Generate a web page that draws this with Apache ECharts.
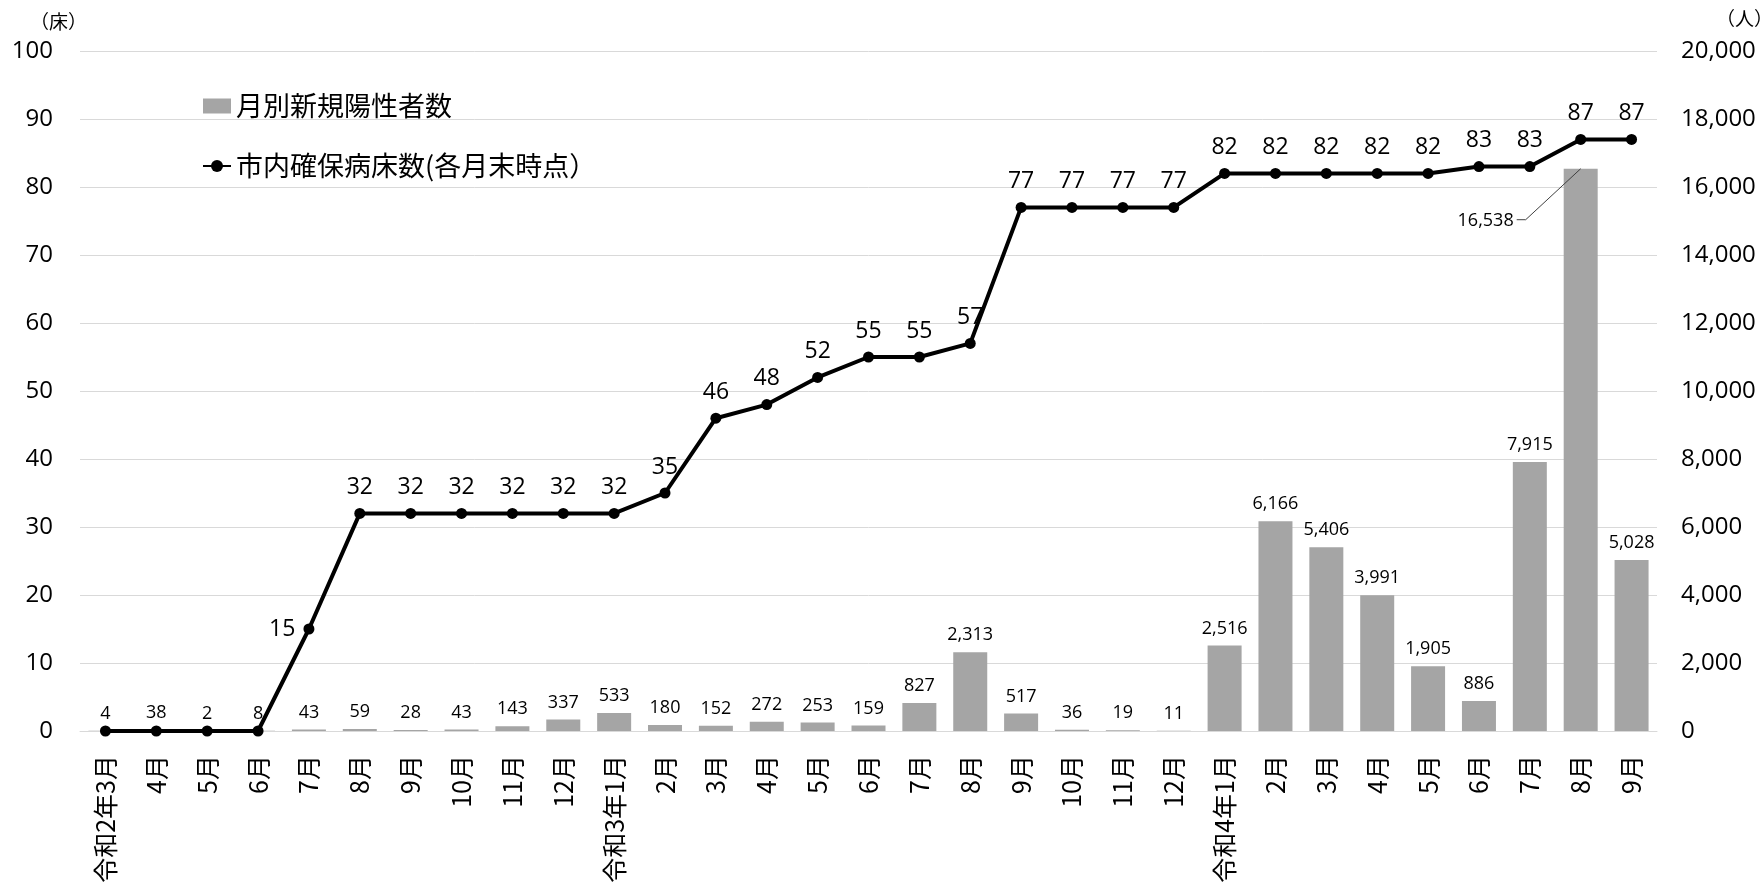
<!DOCTYPE html>
<html><head><meta charset="utf-8">
<script src="https://cdn.jsdelivr.net/npm/echarts@6/dist/echarts.min.js"></script>
<style>html,body{margin:0;padding:0;background:#fff}#c{width:1763px;height:888px}</style>
</head><body><div id="c"></div>
<script>
const categories = ['令和2年3月','4月','5月','6月','7月','8月','9月','10月','11月','12月',
  '令和3年1月','2月','3月','4月','5月','6月','7月','8月','9月','10月','11月','12月',
  '令和4年1月','2月','3月','4月','5月','6月','7月','8月','9月'];
const casesValues = [4,38,2,8,43,59,28,43,143,337,533,180,152,272,253,159,827,2313,517,36,19,11,2516,6166,5406,3991,1905,886,7915,16538,5028];
const bedsValues = [0,0,0,0,15,32,32,32,32,32,32,35,46,48,52,55,55,57,77,77,77,77,82,82,82,82,82,83,83,87,87];
const leftTicks = {min:0, max:100, interval:10};
const rightTicks = {min:0, max:20000, interval:2000};
const casesName = '月別新規陽性者数';
const bedsName = '市内確保病床数(各月末時点）';

const NUM = "'Open Sans', 'Noto Sans CJK JP', sans-serif";
const CJK = "'Noto Sans CJK JP', sans-serif";
const fmt = v => Number(v).toLocaleString('en-US');
const peakIdx = casesValues.indexOf(Math.max(...casesValues));

const chart = echarts.init(document.getElementById('c'));
chart.setOption({
  animation: false,
  backgroundColor: '#fff',
  grid: {left: 80, right: 106, top: 51, bottom: 157, containLabel: false},
  graphic: [
    {type:'text', left: 30, top: 12, style:{text:'（床）', font:"19px 'Noto Sans CJK JP'", fill:'#000'}},
    {type:'text', left: 1716, top: 9, style:{text:'（人）', font:"19px 'Noto Sans CJK JP'", fill:'#000'}}
  ],
  legend: {
    orient: 'vertical', left: 197, top: 87, itemWidth: 28, itemHeight: 15, itemGap: 32,
    textStyle: {fontSize: 27, lineHeight: 28, color: '#000', fontFamily: CJK},
    data: [{name: casesName, icon: 'rect'}, {name: bedsName}]
  },
  xAxis: {
    type: 'category', data: categories,
    axisLine: {show: true, lineStyle: {color: '#D9D9D9', width: 1}},
    axisTick: {show: false},
    axisLabel: {interval: 0, rotate: 90, margin: 24, fontSize: 25, color: '#000', fontFamily: CJK}
  },
  yAxis: [
    {type: 'value', min: leftTicks.min, max: leftTicks.max, interval: leftTicks.interval,
     axisLine: {show: false}, axisTick: {show: false},
     axisLabel: {fontSize: 24, color: '#000', fontFamily: NUM, margin: 27},
     splitLine: {lineStyle: {color: '#D9D9D9', width: 1}}},
    {type: 'value', min: rightTicks.min, max: rightTicks.max, interval: rightTicks.interval,
     axisLine: {show: false}, axisTick: {show: false},
     axisLabel: {fontSize: 24, color: '#000', fontFamily: NUM, margin: 24, formatter: fmt},
     splitLine: {show: false}}
  ],
  series: [
    {name: casesName, type: 'bar', yAxisIndex: 1, barWidth: 34,
     itemStyle: {color: '#A5A5A5'},
     label: {show: true, position: 'top', distance: 8, fontSize: 18, color: '#000', fontFamily: NUM, formatter: p => fmt(p.value)},
     data: casesValues.map((v, i) => i === peakIdx ? {value: v, label: {show: false}} : v),
     z: 2},
    {name: bedsName, type: 'line', yAxisIndex: 0,
     symbol: 'circle', symbolSize: 11,
     lineStyle: {color: '#000', width: 4}, itemStyle: {color: '#000'},
     label: {show: true, position: 'top', distance: 9, fontSize: 23, color: '#000', fontFamily: NUM,
             formatter: p => p.value === 0 ? '' : String(p.value)},
     data: bedsValues.map((v, i) => i === 4 ? {value: v, label: {position: 'left', distance: 8}} : v),
     z: 4},
    {type: 'custom', yAxisIndex: 1, silent: true, z: 5,
     data: [[peakIdx, casesValues[peakIdx]]],
     renderItem: function (params, api) {
       const p = api.coord([api.value(0), api.value(1)]);
       const ax = p[0] - 55, ay = p[1] + 51;
       return {type: 'group', children: [
         {type: 'polyline', shape: {points: [[p[0], p[1]], [ax, ay], [ax - 9, ay]]},
          style: {stroke: '#404040', lineWidth: 1, fill: null}},
         {type: 'text', style: {text: fmt(api.value(1)), x: ax - 12, y: ay + 1, align: 'right', verticalAlign: 'middle',
          font: "18px 'Open Sans'", fill: '#000'}}
       ]};
     }}
  ]
});
</script></body></html>
